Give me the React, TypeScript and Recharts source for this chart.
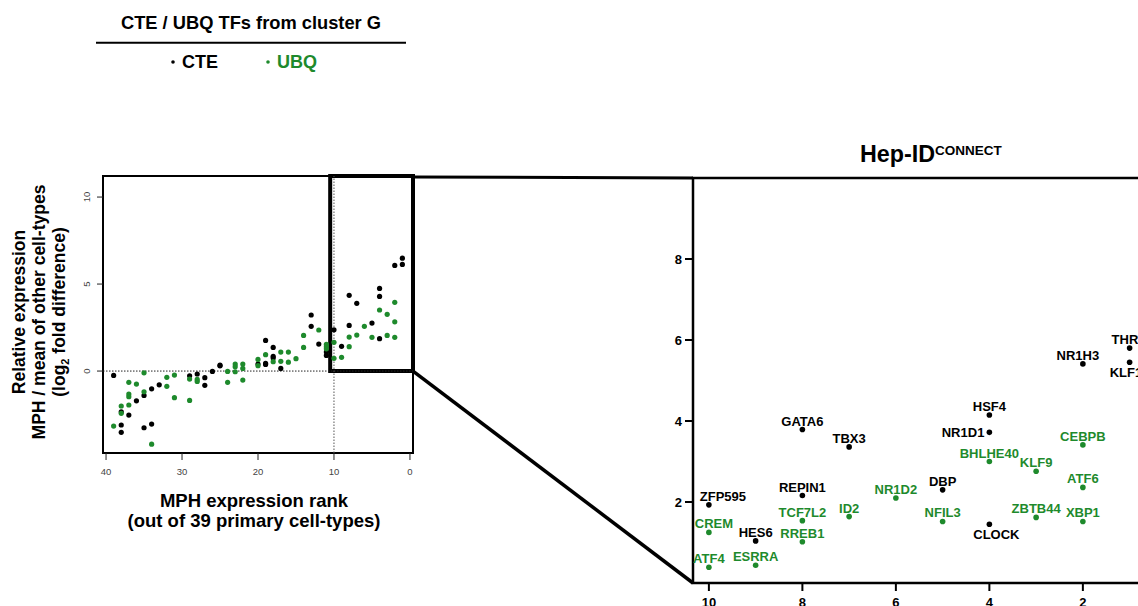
import React from 'react'
import { ScatterChart, Scatter, XAxis, YAxis, ReferenceLine, ReferenceArea } from 'recharts'

const GREEN = '#1e8a2c'
const FONT = '"Liberation Sans", Arial, Helvetica, sans-serif'

// left panel: MPH rank vs relative expression
const mphCteRank = [39, 34, 33, 35, 36, 38, 37, 38, 38, 35, 34, 29, 28, 27, 27, 26, 25, 25, 20, 19, 19, 17, 19, 18, 18, 18, 13, 13, 12, 11, 11, 10, 9, 8, 8, 7, 5, 4, 4, 4, 2, 1, 1]
const mphCteValue = [-0.25, -1.02, -0.79, -1.4, -1.71, -2.34, -2.53, -3.1, -3.52, -3.26, -3.05, -0.27, -0.17, -0.38, -0.82, -0.02, 0.34, 0.3, 0.4, 0.44, 0.38, 0.15, 1.76, 1.36, 0.85, 0.75, 3.22, 2.57, 1.55, 1.1, 0.9, 2.37, 1.42, 4.35, 2.62, 3.89, 2.76, 4.75, 4.29, 1.86, 6.07, 6.49, 6.13]

const mphUbqRank = [35, 37, 36, 37, 37, 37, 38, 38, 39, 35, 34, 32, 32, 31, 31, 29, 29, 28, 28, 24, 24, 23, 23, 23, 22, 22, 22, 20, 20, 19, 18, 17, 17, 16, 16, 15, 14, 14, 12, 11, 11, 11, 10, 10, 9, 8, 8, 7, 6, 5, 4, 3, 3, 2, 2, 2]
const mphUbqValue = [-0.1, -0.65, -0.75, -1.32, -1.47, -1.95, -2.01, -2.43, -3.16, -1.19, -4.2, -0.36, -0.88, -0.23, -1.53, -0.46, -1.69, -0.48, -0.6, -0.02, -0.65, 0.4, 0.25, -0.04, 0.4, 0.15, -0.52, 0.31, 0.67, 0.94, 0.54, 1.09, 0.56, 1.09, 0.51, 0.71, 2.05, 1.36, 2.36, 1.53, 1.39, 1.28, 1.65, 0.73, 0.79, 1.95, 1.4, 2.07, 2.57, 1.94, 3.51, 3.26, 2.05, 3.95, 2.83, 1.94]

const mphXTicks = [0, 10, 20, 30, 40]
const mphYTicks = [0, 5, 10]

// right panel: Hep-ID CONNECT top 10
const hepCteNames = ['ZFP595', 'HES6', 'GATA6', 'REPIN1', 'TBX3', 'DBP', 'HSF4', 'NR1D1', 'CLOCK', 'NR1H3', 'THRB', 'KLF15']
const hepCteRank = [10, 9, 8, 8, 7, 5, 4, 4, 4, 2, 1, 1]
const hepCteValue = [1.93, 1.04, 3.79, 2.16, 3.36, 2.3, 4.15, 3.72, 1.45, 5.41, 5.8, 5.45]

const hepUbqNames = ['CREM', 'ATF4', 'ESRRA', 'TCF7L2', 'RREB1', 'ID2', 'NR1D2', 'NFIL3', 'BHLHE40', 'KLF9', 'ZBTB44', 'CEBPB', 'ATF6', 'XBP1']
const hepUbqRank = [10, 10, 9, 8, 8, 7, 6, 5, 4, 3, 3, 2, 2, 2]
const hepUbqValue = [1.25, 0.39, 0.44, 1.54, 1.02, 1.64, 2.1, 1.52, 3.0, 2.76, 1.62, 3.41, 2.36, 1.52]

const hepXTicks = [10, 8, 6, 4, 2]
const hepYTicks = [2, 4, 6, 8]

// label placement tweaks (default: centred above the point)
const labelPlace: Record<string, string> = { NR1D1: 'left', CLOCK: 'below', KLF15: 'below' }
const labelNudge: Record<string, number> = { ZFP595: 14, CREM: 5, CLOCK: 7, NR1H3: -5 }

const mphCte = mphCteRank.map((r, i) => ({ rank: r, value: mphCteValue[i] }))
const mphUbq = mphUbqRank.map((r, i) => ({ rank: r, value: mphUbqValue[i] }))
const hepCte = hepCteNames.map((n, i) => ({ name: n, rank: hepCteRank[i], value: hepCteValue[i] }))
const hepUbq = hepUbqNames.map((n, i) => ({ name: n, rank: hepUbqRank[i], value: hepUbqValue[i] }))

// left plot geometry
const L = { left: 103, top: 176, right: 413, bottom: 453 }
const mphX: [number, number] = [-0.4, 40.4]
const mphY: [number, number] = [-4.71, 11.21]
const zoomRank = 10.5

// right plot geometry
const R = { left: 693, top: 178, right: 1160, bottom: 583 }
const hepX: [number, number] = [0.35, 10.34]
const hepY: [number, number] = [0, 10]

const leftPy = (v: number) => L.bottom - ((v - mphY[0]) / (mphY[1] - mphY[0])) * (L.bottom - L.top)

const dot = (color: string, r: number) => (p: any) => <circle cx={p.cx} cy={p.cy} r={r} fill={color} />

const labelledDot = (color: string) => (p: any) => {
  const name = p.payload?.name ?? p.name
  const place = labelPlace[name] || 'above'
  let tx = p.cx + (labelNudge[name] || 0)
  let ty = p.cy - 4
  let anchor = 'middle'
  if (place === 'below') ty = p.cy + 15
  if (place === 'left') {
    tx = p.cx - 5
    ty = p.cy + 5
    anchor = 'end'
  }
  return (
    <g>
      <circle cx={p.cx} cy={p.cy} r={2.8} fill={color} />
      <text x={tx} y={ty} textAnchor={anchor} fontSize={13} fontWeight="bold" fill={color} fontFamily={FONT}>
        {name}
      </text>
    </g>
  )
}

const RotatedTick = (p: any) => (
  <text x={p.x} y={p.y} transform={`rotate(-90 ${p.x} ${p.y})`} textAnchor="middle" fontSize={9.5} fill="#444" fontFamily={FONT}>
    {p.payload.value}
  </text>
)

function MphPanel() {
  const w = 430
  const h = 500
  return (
    <div style={{ position: 'absolute', left: 0, top: 0 }}>
      <ScatterChart width={w} height={h} margin={{ top: L.top, right: w - L.right, bottom: h - L.bottom - 30, left: L.left - 30 }}>
        <XAxis type="number" dataKey="rank" domain={mphX} reversed ticks={mphXTicks} allowDataOverflow
          axisLine={false} tickSize={7} tickMargin={8} height={30}
          tickLine={{ stroke: '#222', strokeWidth: 1 }}
          tick={{ fontSize: 9.5, fill: '#444', fontFamily: FONT }} />
        <YAxis type="number" dataKey="value" domain={mphY} ticks={mphYTicks} allowDataOverflow
          axisLine={false} tickSize={6} tickMargin={7} width={30}
          tickLine={{ stroke: '#222', strokeWidth: 1 }} tick={<RotatedTick />} />
        <ReferenceLine y={0} stroke="#222" strokeWidth={1} strokeDasharray="1.5 1.5" />
        <ReferenceLine x={10} stroke="#555" strokeWidth={1} strokeDasharray="1.5 1.5" />
        <ReferenceArea x1={mphX[0]} x2={mphX[1]} y1={mphY[0]} y2={mphY[1]} fill="none" stroke="#000" strokeWidth={2} ifOverflow="visible" />
        <ReferenceArea x1={zoomRank} x2={mphX[0]} y1={0} y2={mphY[1]} fill="none" stroke="#000" strokeWidth={4} ifOverflow="visible" />
        <Scatter data={mphCte} fill="#000" shape={dot('#000', 2.6)} isAnimationActive={false} />
        <Scatter data={mphUbq} fill={GREEN} shape={dot(GREEN, 2.6)} isAnimationActive={false} />
      </ScatterChart>
    </div>
  )
}

function HepPanel() {
  const ox = 600
  const w = R.right - ox + 10
  const h = 640
  return (
    <div style={{ position: 'absolute', left: ox, top: 0 }}>
      <ScatterChart width={w} height={h} margin={{ top: R.top, right: 10, bottom: h - R.bottom - 30, left: R.left - ox - 40 }}>
        <XAxis type="number" dataKey="rank" domain={hepX} reversed ticks={hepXTicks} allowDataOverflow
          axisLine={false} tickSize={8} tickMargin={7} height={30}
          tickLine={{ stroke: '#000', strokeWidth: 2 }}
          tick={{ fontSize: 13, fontWeight: 'bold', fill: '#000', fontFamily: FONT }} />
        <YAxis type="number" dataKey="value" domain={hepY} ticks={hepYTicks} allowDataOverflow
          axisLine={false} tickSize={8} tickMargin={3} width={40}
          tickLine={{ stroke: '#000', strokeWidth: 2 }}
          tick={{ fontSize: 13, fontWeight: 'bold', fill: '#000', fontFamily: FONT }} />
        <ReferenceArea x1={hepX[0]} x2={hepX[1]} y1={hepY[0]} y2={hepY[1]} fill="none" stroke="#000" strokeWidth={2.5} ifOverflow="visible" />
        <Scatter data={hepCte} fill="#000" shape={labelledDot('#000')} isAnimationActive={false} />
        <Scatter data={hepUbq} fill={GREEN} shape={labelledDot(GREEN)} isAnimationActive={false} />
      </ScatterChart>
    </div>
  )
}

function Overlay() {
  return (
    <svg width={1138} height={606} style={{ position: 'absolute', left: 0, top: 0, pointerEvents: 'none' }} fontFamily={FONT}>
      {/* legend block */}
      <text x={251} y={29} textAnchor="middle" fontSize={18.3} fontWeight="bold">CTE / UBQ TFs from cluster G</text>
      <line x1={96} x2={406} y1={42.7} y2={42.7} stroke="#000" strokeWidth={2} />
      <circle cx={173} cy={62} r={1.8} fill="#000" />
      <text x={182} y={68} fontSize={18} fontWeight="bold">CTE</text>
      <circle cx={268} cy={62} r={1.8} fill={GREEN} />
      <text x={277} y={68} fontSize={18} fontWeight="bold" fill={GREEN}>UBQ</text>

      {/* left axis titles */}
      <text x={254} y={507} textAnchor="middle" fontSize={18.5} fontWeight="bold">MPH expression rank</text>
      <text x={254} y={527} textAnchor="middle" fontSize={18.5} fontWeight="bold">(out of 39 primary cell-types)</text>
      <g transform="translate(0 312) rotate(-90)" fontSize={17.5} fontWeight="bold" textAnchor="middle">
        <text x={0} y={25}>Relative expression</text>
        <text x={0} y={45}>MPH / mean of other cell-types</text>
        <text x={0} y={65}>
          (log<tspan fontSize={11} dy={4}>2</tspan><tspan dy={-4}> fold difference)</tspan>
        </text>
      </g>

      {/* zoom connectors */}
      <line x1={L.right} y1={L.top + 1} x2={R.left} y2={R.top} stroke="#000" strokeWidth={3} />
      <line x1={L.right} y1={leftPy(0)} x2={R.left} y2={R.bottom} stroke="#000" strokeWidth={3.5} />

      {/* right title */}
      <text x={860} y={161.5} fontSize={23.3} fontWeight="bold">
        Hep-ID<tspan fontSize={13.5} dy={-7}>CONNECT</tspan>
      </text>
    </svg>
  )
}

export default function App() {
  return (
    <div style={{ position: 'relative', width: 1138, height: 606, overflow: 'hidden', background: '#fff', fontFamily: FONT }}>
      <style>{'body{margin:0}'}</style>
      <MphPanel />
      <HepPanel />
      <Overlay />
    </div>
  )
}
